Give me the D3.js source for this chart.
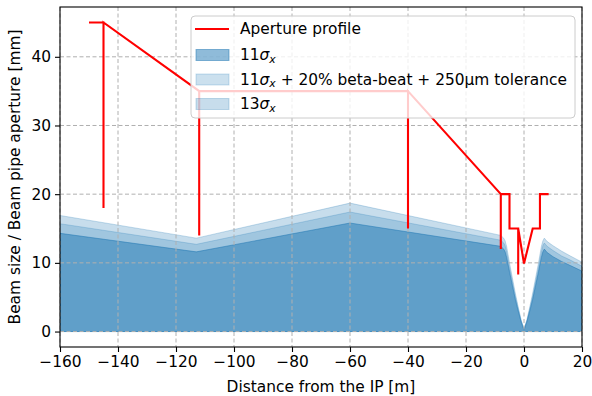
<!DOCTYPE html>
<html lang="en">
<head>
<meta charset="utf-8" />
<title>Beam size and aperture</title>
<style>
  body { margin: 0; background: #fff; }
  text { font-family: "DejaVu Sans", sans-serif; fill: #000; }
</style>
</head>
<body>
<script src="https://d3js.org/d3.v7.min.js"></script>
<script>
// data
const beamS   = [-160, -113, -60, -8, -7, -6.5, -6, -5, -4, -3, -2, -1, 0, 1, 2, 3, 4, 5, 6, 6.5, 7, 8, 10, 13, 16, 20];
const sigma11 = [14.3, 11.6, 15.8, 12.4, 12.0, 11.6, 10.8, 8.7, 6.7, 4.7, 3.0, 1.4, 0.2, 1.4, 3.0, 4.7, 6.7, 8.7, 10.8, 11.6, 12.0, 11.5, 10.9, 10.2, 9.6, 8.8];
const sigmaBB = [15.7, 12.7, 17.4, 13.3, 12.9, 12.5, 11.6, 9.3, 7.2, 5.1, 3.3, 1.6, 0.4, 1.6, 3.3, 5.1, 7.2, 9.3, 11.6, 12.5, 12.9, 12.4, 11.8, 11.0, 10.4, 9.5];
const sigma13 = [16.9, 13.6, 18.7, 14.0, 13.6, 13.2, 12.4, 10.0, 7.8, 5.6, 3.6, 1.7, 0.3, 1.7, 3.6, 5.6, 7.8, 10.0, 12.4, 13.2, 13.6, 13.1, 12.5, 11.7, 11.0, 10.1];

const apertureS = [-150, -145, -145, -145, -112, -112, -112, -40, -40, -40, -8, -8, -8, -5, -5, -2, -2, -2, 0, 3, 5.5, 5.5, 8.5];
const apertureR = [45, 45, 18, 45, 35, 14, 35, 35, 15, 35, 20, 12, 20, 20, 15, 15, 8.3, 15, 9.9, 15, 15, 20, 20];

const xTicks = [-160, -140, -120, -100, -80, -60, -40, -20, 0, 20];
const yTicks = [0, 10, 20, 30, 40];

const width = 592, height = 396;
const pLeft = 60, pRight = 582, pTop = 7, pBottom = 347;
const fs = 15.4;
const blue = "#1f77b4";

const svg = d3.select("body").append("svg")
    .attr("width", width)
    .attr("height", height);

const x = d3.scaleLinear().domain([-160, 20]).range([pLeft, pRight]);
const y = d3.scaleLinear().domain([-2.25, 47.25]).range([pBottom, pTop]);

svg.append("clipPath").attr("id", "plot")
  .append("rect").attr("x", pLeft).attr("y", pTop)
  .attr("width", pRight - pLeft).attr("height", pBottom - pTop);

const fills = svg.append("g").attr("clip-path", "url(#plot)");
const grid = svg.append("g").attr("stroke", "#b0b0b0").attr("stroke-width", 1)
    .attr("stroke-dasharray", "4,2.5");
const lines = svg.append("g").attr("clip-path", "url(#plot)");

// beam envelopes, widest first
const bands = [
  {vals: sigma13, a: 0.25},
  {vals: sigmaBB, a: 0.23},
  {vals: sigma11, a: 0.5}
];
bands.forEach(b => {
  const area = d3.area()
      .x((d, i) => x(beamS[i]))
      .y0(y(0))
      .y1(d => y(d));
  fills.append("path")
      .datum(b.vals)
      .attr("d", area)
      .attr("fill", blue)
      .attr("fill-opacity", b.a)
      .attr("stroke", blue)
      .attr("stroke-opacity", b.a)
      .attr("stroke-width", 1);
});

// grid: above the fills, below the aperture line
xTicks.forEach(t => {
  grid.append("line").attr("x1", x(t)).attr("x2", x(t)).attr("y1", pTop).attr("y2", pBottom);
});
yTicks.forEach(t => {
  grid.append("line").attr("x1", pLeft).attr("x2", pRight).attr("y1", y(t)).attr("y2", y(t));
});

// aperture profile
const line = d3.line()
    .x((d, i) => x(apertureS[i]))
    .y(d => y(d));
lines.append("path")
    .datum(apertureR)
    .attr("d", line)
    .attr("fill", "none")
    .attr("stroke", "#ff0000")
    .attr("stroke-width", 2.1)
    .attr("stroke-linejoin", "miter");

// axes
const xAxis = svg.append("g")
    .attr("transform", "translate(0," + pBottom + ")")
    .call(d3.axisBottom(x).tickValues(xTicks).tickSize(5).tickPadding(4));
const yAxis = svg.append("g")
    .attr("transform", "translate(" + pLeft + ",0)")
    .call(d3.axisLeft(y).tickValues(yTicks).tickSize(5).tickPadding(4));
[xAxis, yAxis].forEach(g => {
  g.select(".domain").remove();
  g.selectAll(".tick line").attr("stroke", "#000").attr("stroke-width", 1.1);
  g.selectAll(".tick text").style("font-size", fs + "px").attr("fill", "#000")
    .style("font-family", "DejaVu Sans");
});

svg.append("rect")
    .attr("x", pLeft).attr("y", pTop)
    .attr("width", pRight - pLeft).attr("height", pBottom - pTop)
    .attr("fill", "none").attr("stroke", "#000").attr("stroke-width", 1.1);

// axis labels
svg.append("text")
    .attr("x", (pLeft + pRight) / 2).attr("y", 392)
    .attr("text-anchor", "middle")
    .style("font-size", fs + "px")
    .text("Distance from the IP [m]");

svg.append("text")
    .attr("transform", "translate(20," + ((pTop + pBottom) / 2) + ")rotate(-90)")
    .attr("text-anchor", "middle")
    .style("font-size", fs + "px")
    .text("Beam size / Beam pipe aperture [mm]");

// legend
const leg = svg.append("g");
leg.append("rect")
    .attr("x", 191).attr("y", 16).attr("width", 384).attr("height", 102)
    .attr("rx", 4)
    .attr("fill", "#fff").attr("fill-opacity", 0.8)
    .attr("stroke", "#cccccc").attr("stroke-width", 1);

const rowsY = [29, 55, 79.5, 104];
leg.append("line")
    .attr("x1", 195).attr("x2", 229).attr("y1", rowsY[0]).attr("y2", rowsY[0])
    .attr("stroke", "#ff0000").attr("stroke-width", 2.1);
bands.slice().reverse().forEach((b, i) => {
  leg.append("rect")
      .attr("x", 196).attr("y", rowsY[i + 1] - 5.5)
      .attr("width", 33).attr("height", 11)
      .attr("fill", blue).attr("fill-opacity", b.a)
      .attr("stroke", blue).attr("stroke-opacity", b.a);
});

leg.append("text").attr("x", 240).attr("y", rowsY[0]).attr("dy", "0.35em")
    .style("font-size", fs + "px").text("Aperture profile");

function sigmaLabel(yy, prefix, rest) {
  const t = leg.append("text").attr("x", 240).attr("y", yy).attr("dy", "0.35em")
      .style("font-size", fs + "px");
  t.append("tspan").text(prefix);
  t.append("tspan").style("font-style", "italic").text("σ");
  t.append("tspan").style("font-style", "italic").style("font-size", (fs * 0.7) + "px")
    .attr("dy", "0.2em").text("x");
  if (rest) t.append("tspan").attr("dy", "-0.14em").text(rest);
}
sigmaLabel(rowsY[1], "11", null);
sigmaLabel(rowsY[2], "11", " + 20% beta-beat + 250µm tolerance");
sigmaLabel(rowsY[3], "13", null);
</script>
</body>
</html>
